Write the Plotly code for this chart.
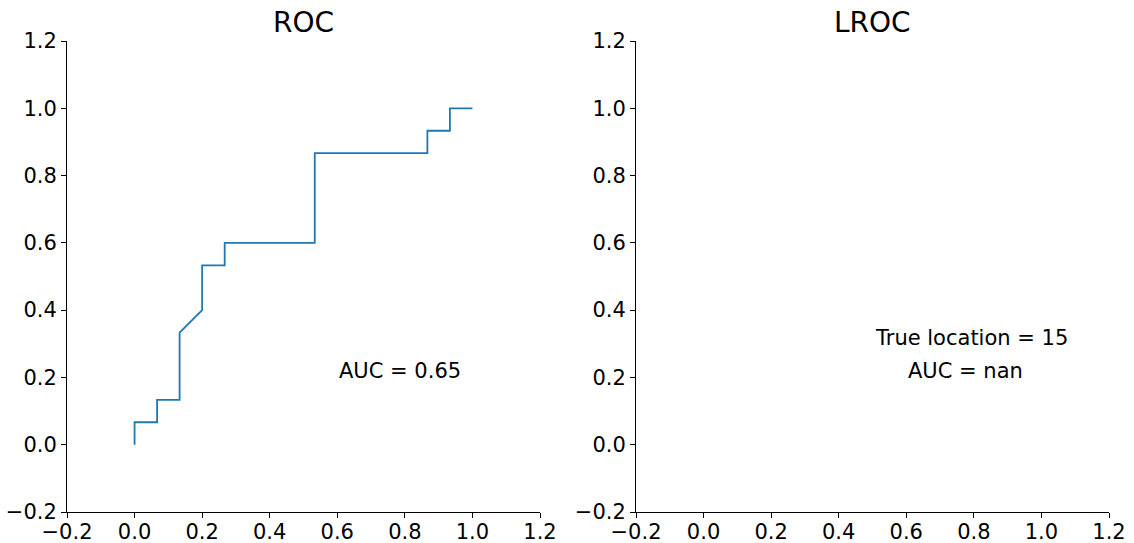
import plotly.graph_objects as go

# ROC curve data (false positive rate, true positive rate)
fpr = [0.0, 0.0, 0.0667, 0.0667, 0.1333, 0.1333, 0.2, 0.2, 0.2667, 0.2667,
       0.5333, 0.5333, 0.8667, 0.8667, 0.9333, 0.9333, 1.0]
tpr = [0.0, 0.0667, 0.0667, 0.1333, 0.1333, 0.3333, 0.4, 0.5333, 0.5333, 0.6,
       0.6, 0.8667, 0.8667, 0.9333, 0.9333, 1.0, 1.0]

# LROC curve: empty (AUC = nan)
lroc_x = []
lroc_y = []

titles = ["ROC", "LROC"]
roc_auc_text = "AUC = 0.65"
lroc_loc_text = "True location = 15"
lroc_auc_text = "AUC = nan"

tick_vals = [-0.2, 0.0, 0.2, 0.4, 0.6, 0.8, 1.0, 1.2]
tick_text = [("\u2212" if v < 0 else "") + f"{abs(v):.1f}" for v in tick_vals]

W, H = 1134, 543
ML, MR, MT, MB = 67, W - 1109, 41, H - 512
inner_w = W - ML - MR
x1_dom = [0.0, (540 - ML) / inner_w]
x2_dom = [(636 - ML) / inner_w, 1.0]
y_dom = [0.0, 1.0]

font_family = "DejaVu Sans"
tick_size = 21
text_size = 21
title_size = 28

fig = go.Figure()
fig.add_trace(go.Scatter(x=fpr, y=tpr, mode="lines",
                         line=dict(color="#1f77b4", width=1.8),
                         xaxis="x", yaxis="y", showlegend=False,
                         hoverinfo="skip"))
fig.add_trace(go.Scatter(x=lroc_x, y=lroc_y, mode="lines",
                         line=dict(color="#1f77b4", width=1.8),
                         xaxis="x2", yaxis="y2", showlegend=False))

axis_common = dict(range=[-0.2, 1.2], tickvals=tick_vals, ticktext=tick_text,
                   showgrid=False, zeroline=False, showline=True,
                   linecolor="black", linewidth=1, ticks="outside",
                   ticklen=5, tickwidth=1, tickcolor="black", mirror=False,
                   automargin=False,
                   tickfont=dict(family=font_family, size=tick_size, color="black"))

fig.update_layout(
    width=W, height=H,
    margin=dict(l=ML, r=MR, t=MT, b=MB, autoexpand=False),
    paper_bgcolor="white", plot_bgcolor="white",
    xaxis=dict(domain=x1_dom, anchor="y", ticklabelstandoff=-4, **axis_common),
    yaxis=dict(domain=y_dom, anchor="x", **axis_common),
    xaxis2=dict(domain=x2_dom, anchor="y2", ticklabelstandoff=-4, **axis_common),
    yaxis2=dict(domain=y_dom, anchor="x2", **axis_common),
    showlegend=False,
)

anns = []
for title, dom in zip(titles, [x1_dom, x2_dom]):
    anns.append(dict(text=title, x=(dom[0] + dom[1]) / 2, y=1.0,
                     xref="paper", yref="paper", xanchor="center",
                     yanchor="bottom", yshift=0, showarrow=False,
                     font=dict(family=font_family, size=title_size, color="black")))
anns.append(dict(text=roc_auc_text, x=0.6, y=0.2, xref="x", yref="y",
                 xanchor="left", yanchor="bottom", yshift=-8, showarrow=False,
                 font=dict(family=font_family, size=text_size, color="black")))
anns.append(dict(text=lroc_loc_text, x=0.5, y=0.3, xref="x2", yref="y2",
                 xanchor="left", yanchor="bottom", yshift=-8, showarrow=False,
                 font=dict(family=font_family, size=text_size, color="black")))
anns.append(dict(text=lroc_auc_text, x=0.6, y=0.2, xref="x2", yref="y2",
                 xanchor="left", yanchor="bottom", yshift=-8, showarrow=False,
                 font=dict(family=font_family, size=text_size, color="black")))
fig.update_layout(annotations=anns)

fig.write_html("out.html")
